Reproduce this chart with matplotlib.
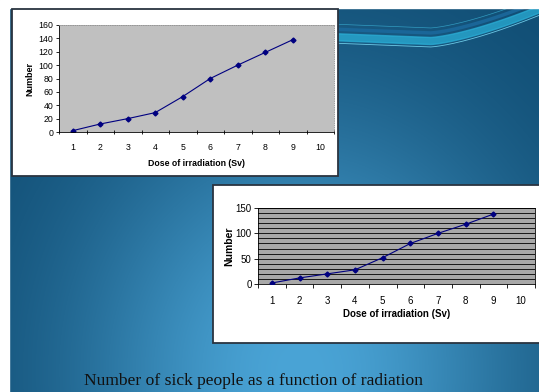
import matplotlib.pyplot as plt
import numpy as np
from matplotlib.patches import Rectangle

# data
dose = [1, 2, 3, 4, 5, 6, 7, 8, 9]
sick_top = [2, 12, 20, 29, 53, 80, 100, 119, 138]
sick_bottom = [2, 12, 20, 28, 52, 80, 100, 118, 138]
categories = [1, 2, 3, 4, 5, 6, 7, 8, 9, 10]
caption = "Number of sick people as a function of radiation"

plt.rcParams['font.family'] = ['Liberation Sans', 'DejaVu Sans']

W, H = 539, 392
fig = plt.figure(figsize=(W / 100, H / 100), dpi=100)

# slide background
bg = fig.add_axes([0, 0, 1, 1])
bg.set_xlim(0, W)
bg.set_ylim(H, 0)
bg.axis('off')
yy, xx = np.mgrid[0:H, 0:W]
f = np.exp(-(((xx - 300) / 230.0) ** 2 + ((yy - 370) / 260.0) ** 2))
dark = np.array([0x0e, 0x4a, 0x70]) / 255
light = np.array([0x4a, 0xa4, 0xd6]) / 255
img = dark[None, None, :] * (1 - f[..., None]) + light[None, None, :] * f[..., None]
bg.imshow(img, extent=[0, W, H, 0], aspect='auto', zorder=0)

# wave decoration top right
t = np.linspace(330, W, 200)
base = 44 - 32 * np.clip((t - 430) / 110, 0, 1) ** 1.4 - 4 * np.clip((430 - t) / 100, 0, 1)
bg.fill_between(t, base - 7, base, color='#2aaed6', alpha=0.75, zorder=2)
bg.plot(t, base - 11, color='#1a6698', lw=2.5, zorder=2)
bg.plot(t, base + 3, color='#6cc9e6', lw=0.6, zorder=2)
bg.plot(t, base - 16, color='#3db8dc', lw=0.5, alpha=0.7, zorder=2)
bg.add_patch(Rectangle((0, 0), W, 8, color='white', zorder=2.5))
bg.add_patch(Rectangle((0, 0), 9, H, color='white', zorder=2.5))

# chart boxes
bg.add_patch(Rectangle((12, 9), 326, 167, facecolor='white', edgecolor='#2a3440', lw=1.3, zorder=3))
bg.add_patch(Rectangle((213, 185), 330, 158, facecolor='white', edgecolor='#2a3440', lw=1.3, zorder=3))
bg.text(254, 381, caption, ha='center', va='center', fontsize=12.6,
        family='Liberation Serif', color='#111111', zorder=4)


def rect(x0, y0, x1, y1):
    return [x0 / W, 1 - y1 / H, (x1 - x0) / W, (y1 - y0) / H]


# top chart
ax1 = fig.add_axes(rect(59, 25, 334, 132))
ax1.set_facecolor('#c0c0c0')
ax1.plot(dose, sick_top, color='#000080', lw=0.8, marker='D', ms=2.5)
ax1.set_xlim(0.5, 10.5)
ax1.set_ylim(0, 160)
ax1.set_yticks(range(0, 161, 20))
ax1.set_xticks(categories)
ax1.set_xticks(np.arange(0.5, 11, 1), minor=True)
ax1.tick_params(axis='x', which='major', length=0, labelsize=6.3, pad=8)
ax1.tick_params(axis='x', which='minor', length=2.5, direction='inout', width=0.6)
ax1.tick_params(axis='y', labelsize=6.3, length=2.5, width=0.6, pad=1.5)
for s in ['top', 'right']:
    ax1.spines[s].set_color('#909090')
    ax1.spines[s].set_linestyle(':')
    ax1.spines[s].set_linewidth(0.6)
ax1.spines['left'].set_linewidth(0.6)
ax1.spines['bottom'].set_linewidth(0.6)
ax1.set_xlabel('Dose of irradiation (Sv)', fontsize=6.3, fontweight='bold', labelpad=5)
ax1.set_ylabel('Number', fontsize=6.5, fontweight='bold', labelpad=3)

# bottom chart
ax2 = fig.add_axes(rect(258, 208, 535, 284))
ax2.set_facecolor('#a8a8a8')
ax2.plot(dose, sick_bottom, color='#000080', lw=0.8, marker='D', ms=2.5, zorder=3)
ax2.set_xlim(0.5, 10.5)
ax2.set_ylim(0, 150)
ax2.set_yticks([0, 50, 100, 150])
ax2.set_yticks(range(0, 151, 10), minor=True)
ax2.grid(True, axis='y', which='both', color='black', lw=0.6)
ax2.set_xticks(categories)
ax2.set_xticks(np.arange(0.5, 11, 1), minor=True)
ax2.tick_params(axis='x', which='major', length=0, labelsize=7, pad=9)
ax2.tick_params(axis='x', which='minor', length=3, width=0.6)
ax2.tick_params(axis='y', which='major', labelsize=7, length=3, width=0.6, pad=1.5)
ax2.tick_params(axis='y', which='minor', length=0)
for s in ax2.spines.values():
    s.set_linewidth(0.6)
ax2.set_xlabel('Dose of irradiation (Sv)', fontsize=7, fontweight='bold', labelpad=2)
ax2.set_ylabel('Number', fontsize=7.5, fontweight='bold', labelpad=1)

fig.savefig('out.png', dpi=100)
